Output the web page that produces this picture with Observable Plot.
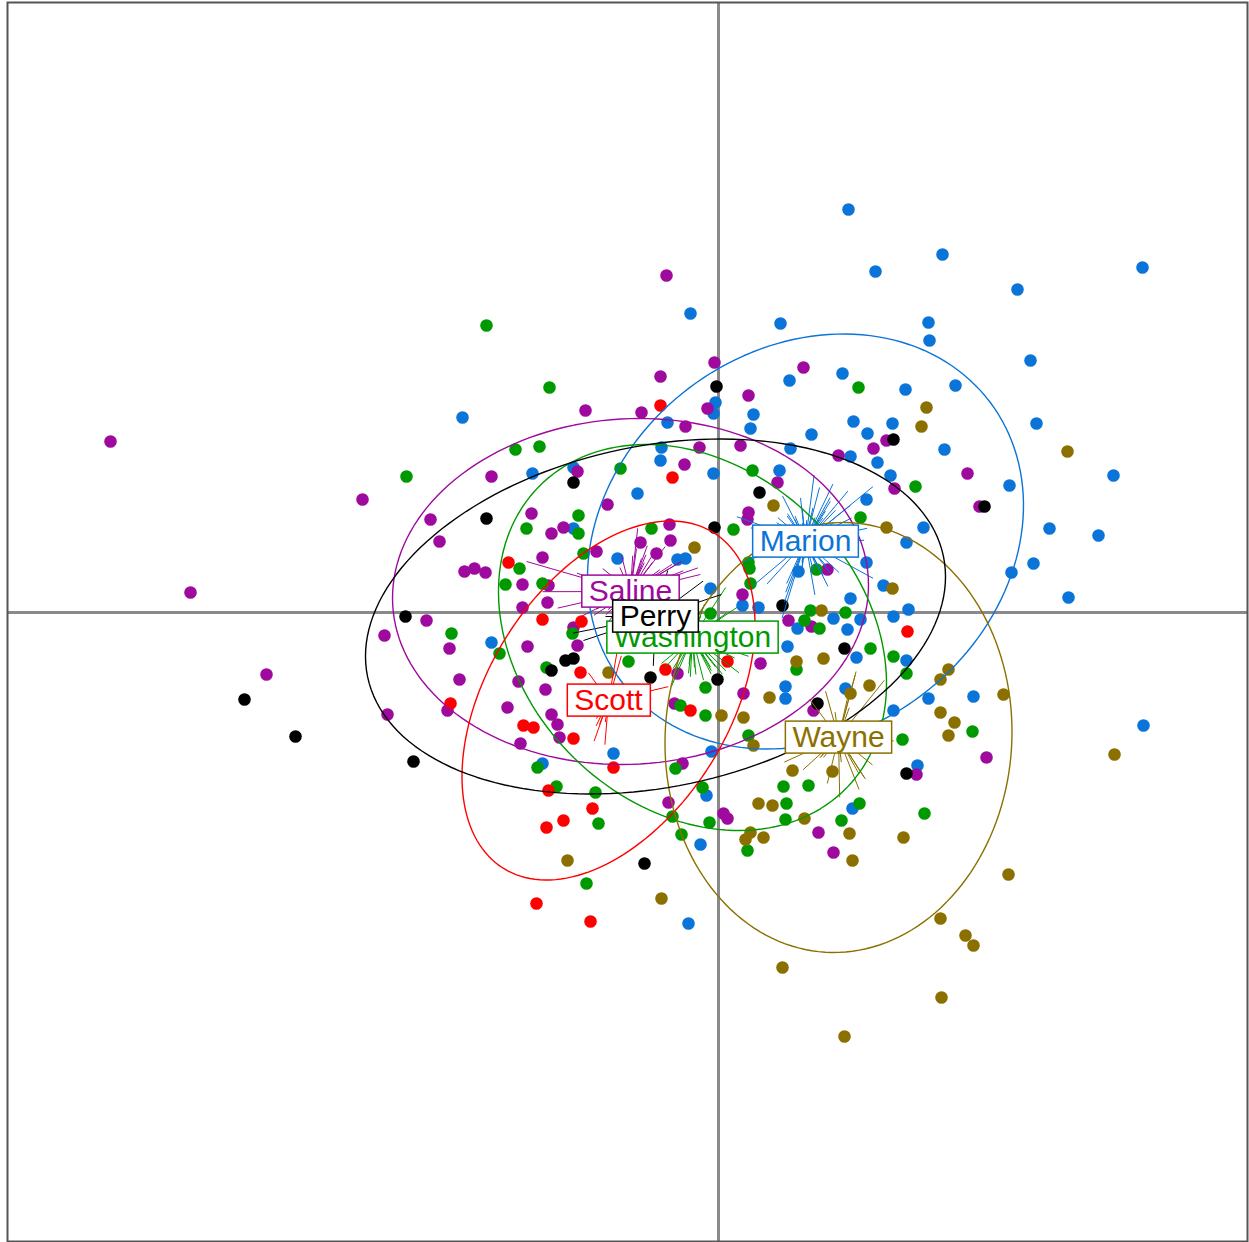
<!DOCTYPE html>
<html>
<head>
<meta charset="utf-8">
<script src="https://cdn.jsdelivr.net/npm/d3@7"></script>
<script src="https://cdn.jsdelivr.net/npm/@observablehq/plot@0.6"></script>
<style>
body { margin: 0; background: #fff; }
svg { display: block; }
</style>
</head>
<body>
<div id="chart"></div>
<script>
// Group names and colours (drawing order of labels: Perry last)
const groups = ["Marion", "Saline", "Washington", "Scott", "Wayne", "Perry"];
const groupColors = ["#0a74d8", "#9e0a9e", "#009a00", "#ff0000", "#8b7000", "#000000"];

// Group centroids and (co)variances
const groupMeanX = [0.87, -0.88, -0.26, -1.10, 1.20, -0.63];
const groupMeanY = [0.71, 0.21, -0.25, -0.88, -1.25, -0.04];
const groupVarX  = [2.112, 2.517, 1.673, 0.954, 1.338, 3.738];
const groupVarY  = [1.914, 1.330, 1.656, 1.432, 2.054, 1.400];
const groupCovXY = [0.350, 0.069, -0.396, 0.495, 0.044, 0.513];

// Point coordinates (axis 1, axis 2) per group
const marionX = [1.30,2.24,1.57,4.24,2.99,-0.28,0.62,2.10,2.11,3.12,0.71,1.24,1.87,2.37,-0.03,-0.05,0.35,0.32,-0.51,1.35,1.74,0.93,1.49,3.18,-0.57,-0.58,0.72,2.26,1.32,1.59,1.72,3.95,-0.05,0.61,2.91,-0.81,1.48,3.31,3.80,2.05,1.88,3.15,2.93,3.50,1.48,0.80,-1.45,-1.86,-2.56,-1.45,-1.01,-0.41,-0.33,-0.08,0.24,0.40,1.65,1.32,1.90,1.75,1.15,1.42,0.79,1.29,0.69,1.38,1.88,0.67,0.67,1.27,2.10,2.55,1.75,1.99,-2.27,-1.76,-1.05,-0.07,-0.18,-0.30,1.34,4.25,-0.12];
const marionY = [4.03,3.58,3.41,3.45,3.23,2.99,2.89,2.90,2.72,2.52,2.32,2.39,2.23,2.27,2.10,1.99,1.98,1.84,1.90,1.91,1.89,1.78,1.79,1.89,1.65,1.52,1.64,1.63,1.56,1.50,1.37,1.37,1.39,1.42,1.27,1.19,1.13,0.84,0.77,0.85,0.70,0.49,0.40,0.15,0.50,0.41,1.45,1.39,1.95,0.84,0.54,0.53,0.54,0.24,0.07,0.05,0.27,0.14,0.03,-0.04,-0.06,-0.07,-0.16,-0.17,-0.34,-0.45,-0.48,-0.74,-0.86,-0.76,-0.86,-0.84,-0.98,-1.53,-0.30,-1.51,-1.41,-1.39,-2.32,-3.11,-1.96,-1.13,-1.83];

const salineX = [-6.08,-5.28,-4.52,-0.52,-0.04,-0.58,0.85,-1.33,-0.77,-0.11,0.30,-0.33,-0.19,0.22,-0.34,-1.41,0.59,-1.11,0.30,0.29,-0.49,-0.48,-1.22,-0.78,-0.62,1.09,1.68,1.55,1.20,2.49,1.76,2.61,-3.56,-2.27,-2.88,-2.79,-1.87,-1.67,-1.55,-1.76,-2.54,-2.44,-2.33,-1.96,-1.70,-1.71,-1.96,-2.92,-3.34,-2.69,-1.91,-1.45,-2.59,-2.00,-1.73,-2.71,-2.11,-3.31,-1.67,-1.61,-1.59,-1.98,0.24,0.70,0.93,-1.41,0.42,-0.41,0.25,-0.44,-0.36,0.95,2.68,1.98,-0.50,0.05,0.09,1.00,1.15];
const salineY = [1.71,0.20,-0.62,3.37,2.50,2.36,2.45,2.02,2.00,2.04,2.17,1.86,1.65,1.67,1.48,1.41,1.30,1.08,1.00,0.93,0.88,0.72,0.61,0.70,0.59,0.43,1.72,1.64,1.57,1.39,1.24,1.06,1.13,1.36,0.93,0.71,0.99,0.79,0.85,0.55,0.41,0.44,0.40,0.28,0.27,0.10,0.05,-0.08,-0.23,-0.36,-0.34,-0.15,-0.67,-0.69,-0.77,-0.98,-0.95,-1.02,-1.02,-1.12,-1.25,-1.31,0.18,-0.08,-0.14,-0.33,-0.51,-0.61,-0.81,-0.91,-1.51,-0.98,-1.45,-1.62,-1.90,-2.01,-2.06,-2.20,-2.40];

const perryX = [-0.02,1.75,2.66,-1.45,-2.32,0.41,-0.04,-3.13,-1.53,-1.67,-1.45,-0.68,-0.01,0.64,1.26,0.99,1.88,-0.74,-3.05,-4.74,-4.23];
const perryY = [2.26,1.73,1.06,1.30,0.94,1.20,0.85,-0.04,-0.48,-0.58,-0.46,-0.65,-0.67,0.07,-0.36,-0.91,-1.61,-2.51,-1.49,-0.87,-1.24];

const washingtonX = [-2.32,-1.69,-2.03,-1.79,-3.12,-0.98,-1.40,-1.92,-1.40,-1.99,1.40,1.97,0.34,0.15,-0.67,-1.35,0.30,0.31,1.42,0.98,-2.13,-1.76,-2.67,-2.19,-1.46,-1.72,-0.90,-0.13,-0.38,-0.13,0.30,-0.43,0.65,0.32,0.92,1.27,0.86,1.01,1.52,1.75,0.78,1.88,2.54,1.84,0.90,-1.81,-1.62,-1.23,-1.20,-1.32,-0.16,-0.46,-0.09,-0.37,0.68,0.67,0.29,1.23,1.41,2.06,-0.08];
const washingtonY = [2.87,2.25,1.63,1.66,1.36,1.44,0.97,0.84,0.79,0.44,2.25,1.26,1.42,0.83,0.84,0.59,0.50,0.44,0.95,0.43,0.28,0.29,-0.21,-0.41,-0.21,-0.55,-0.49,-0.75,-0.93,-1.03,-1.23,-1.56,-1.74,0.29,0.02,0.00,-0.08,-0.16,-0.36,-0.44,-0.57,-0.61,-1.19,-1.27,-1.73,-1.55,-1.74,-1.80,-2.11,-2.71,-1.75,-2.04,-2.10,-2.22,-1.91,-2.07,-2.38,-2.08,-1.91,-2.01,-0.01];

const scottX = [-0.58,-0.46,-2.10,-1.76,-1.37,-2.68,-1.95,-1.85,-1.45,-1.70,-1.38,-0.53,0.09,-0.28,-1.05,1.89,-1.26,-1.55,-1.72,-1.82,-1.28];
const scottY = [2.07,1.35,0.50,-0.07,-0.09,-0.91,-1.13,-1.15,-1.26,-1.78,-0.60,-0.57,-0.49,-0.98,-1.55,-0.19,-1.96,-2.08,-2.15,-2.91,-3.09];

const wayneX = [2.08,2.03,3.49,0.55,1.68,-0.24,-1.10,0.51,0.03,0.25,0.35,1.74,1.03,0.78,1.05,2.30,2.22,1.51,1.32,2.85,2.22,2.36,2.30,0.74,1.14,3.96,-1.51,-0.57,0.40,0.54,0.86,0.32,0.27,0.45,1.31,1.34,0.64,1.85,2.90,2.22,2.47,2.55,2.23,1.26];
const wayneY = [2.05,1.86,1.61,1.07,0.85,0.65,-0.60,-0.85,-1.03,-1.05,-1.33,0.24,0.02,-0.49,-0.46,-0.57,-0.67,-0.73,-0.81,-0.82,-1.00,-1.10,-1.23,-1.58,-1.59,-1.42,-2.48,-2.86,-1.91,-1.93,-2.06,-2.20,-2.27,-2.25,-2.21,-2.48,-3.55,-2.25,-2.62,-3.06,-3.23,-3.33,-3.85,-4.24];

const xs = {Marion: marionX, Saline: salineX, Washington: washingtonX, Scott: scottX, Wayne: wayneX, Perry: perryX};
const ys = {Marion: marionY, Saline: salineY, Washington: washingtonY, Scott: scottY, Wayne: wayneY, Perry: perryY};

const xDomain = [-7.11, 5.29];
const yDomain = [-6.29, 6.10];
const cstar = 0.2;     // star segment shrink factor
const cellipse = 1.5;  // ellipse size factor

// Build tables
const points = [];
groups.forEach(g => xs[g].forEach((x, i) => points.push({group: g, x, y: ys[g][i]})));

const centroids = groups.map((g, i) => ({
  group: g, x: groupMeanX[i], y: groupMeanY[i],
  vxx: groupVarX[i], vyy: groupVarY[i], vxy: groupCovXY[i]
}));
const cmap = new Map(centroids.map(c => [c.group, c]));

const stars = points.map(p => {
  const c = cmap.get(p.group);
  return {group: p.group, x1: c.x, y1: c.y, x2: c.x + cstar * (p.x - c.x), y2: c.y + cstar * (p.y - c.y)};
});

const ellipses = [];
centroids.forEach(c => {
  const a = c.vxx, b = c.vxy, d = c.vyy;
  const tr = (a + d) / 2, disc = Math.sqrt(((a - d) / 2) ** 2 + b * b);
  const l1 = tr + disc, l2 = Math.max(tr - disc, 0);
  const th = 0.5 * Math.atan2(2 * b, a - d);
  const r1 = cellipse * Math.sqrt(l1), r2 = cellipse * Math.sqrt(l2);
  for (let k = 0; k <= 160; k++) {
    const t = 2 * Math.PI * k / 160;
    const u = r1 * Math.cos(t), v = r2 * Math.sin(t);
    ellipses.push({group: c.group, x: c.x + u * Math.cos(th) - v * Math.sin(th), y: c.y + u * Math.sin(th) + v * Math.cos(th)});
  }
});

const color = {domain: groups, range: groupColors};

const chart = Plot.plot({
  width: 1249,
  height: 1242,
  marginLeft: 7,
  marginRight: 2,
  marginTop: 2,
  marginBottom: 1,
  x: {domain: xDomain, axis: null},
  y: {domain: yDomain, axis: null},
  color,
  style: {background: "#fff", overflow: "visible"},
  marks: [
    Plot.ruleX([0], {stroke: "#8a8a8a", strokeWidth: 3}),
    Plot.ruleY([0], {stroke: "#8a8a8a", strokeWidth: 3}),
    Plot.dot(points, {x: "x", y: "y", fill: "group", r: 6.3, stroke: null}),
    Plot.link(stars, {x1: "x1", y1: "y1", x2: "x2", y2: "y2", stroke: "group", strokeWidth: 1}),
    Plot.line(ellipses, {x: "x", y: "y", z: "group", stroke: "group", strokeWidth: 1.4, curve: "linear"}),
    Plot.text(centroids, {x: "x", y: "y", text: "group", fill: "group", fontSize: 30, fontFamily: "Liberation Sans, Arial, sans-serif"}),
    Plot.frame({stroke: "#555", strokeWidth: 2})
  ]
});

document.getElementById("chart").append(chart);

// Add white label boxes with coloured border behind each label text
const NS = "http://www.w3.org/2000/svg";
chart.querySelectorAll('g[aria-label="text"] text').forEach(t => {
  const b = t.getBBox();
  const r = document.createElementNS(NS, "rect");
  r.setAttribute("x", b.x - 7);
  r.setAttribute("y", b.y + 1);
  r.setAttribute("width", b.width + 14);
  r.setAttribute("height", b.height - 1);
  r.setAttribute("fill", "white");
  r.setAttribute("stroke", t.getAttribute("fill") || "black");
  r.setAttribute("stroke-width", 1.5);
  const tf = t.getAttribute("transform");
  if (tf) r.setAttribute("transform", tf);
  t.parentNode.insertBefore(r, t);
});
</script>
</body>
</html>
